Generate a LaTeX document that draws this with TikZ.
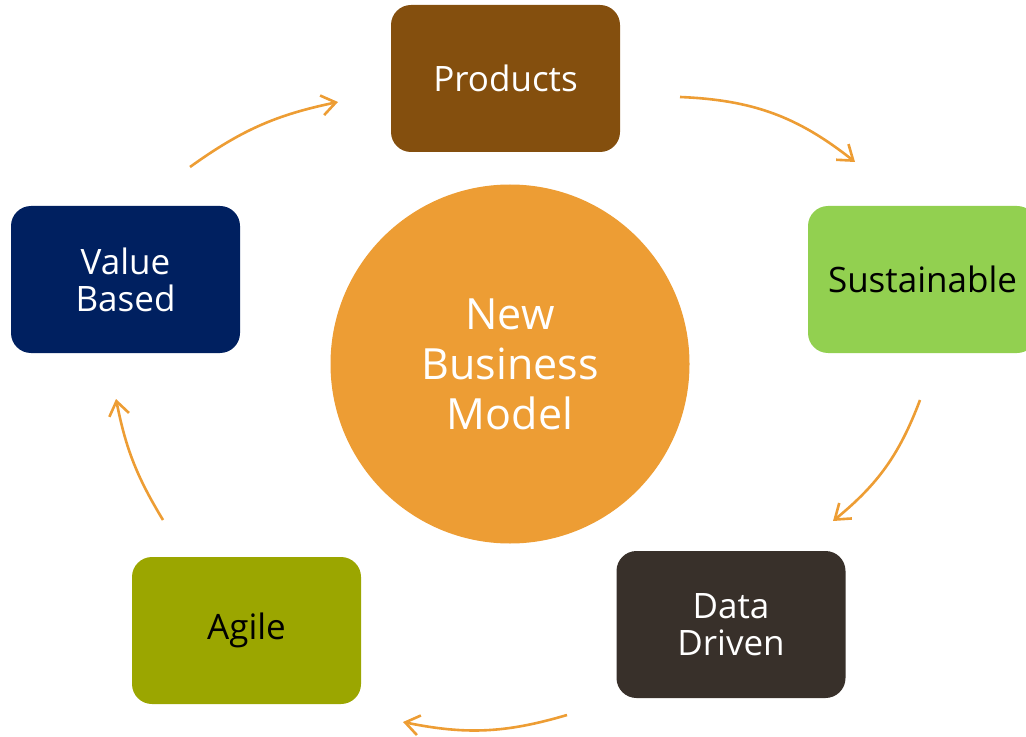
\documentclass[tikz,border=0pt]{standalone}
\usepackage{fontspec}
\setmainfont{Open Sans}
\usetikzlibrary{arrows.meta}
\definecolor{prodbrown}{RGB}{132,79,14}
\definecolor{sustgreen}{RGB}{146,208,80}
\definecolor{datadark}{RGB}{56,48,42}
\definecolor{agileolive}{RGB}{155,166,0}
\definecolor{valuenavy}{RGB}{0,32,96}
\definecolor{coreorange}{RGB}{237,157,52}

\begin{document}
\begin{tikzpicture}[x=0.5pt,y=-0.5pt,
  box/.style={rounded corners=10pt,minimum width=114.5pt,minimum height=73.5pt,
    inner sep=0pt,align=center,font=\fontsize{17.5}{18.5}\selectfont},
  flow/.style={draw=coreorange,line width=1.3pt,
    -{Straight Barb[length=7pt,width=10pt]}}]
\useasboundingbox (0,0) rectangle (1026,737);

% centre
\node[circle,fill=coreorange,text=white,minimum size=179.5pt,inner sep=0pt,
  align=center,font=\fontsize{21.5}{25}\selectfont] (core) at (510,364) {New\\Business\\Model};

% the five boxes
\node[box,fill=prodbrown,text=white] (prod) at (505.5,78.5) {Products};
\node[box,fill=sustgreen,text=black] (sust) at (922.5,279.5) {Sustainable};
\node[box,fill=datadark,text=white] (data) at (731,624.5) {Data\\Driven};
\node[box,fill=agileolive,text=black] (agile) at (246.5,630.5) {Agile};
\node[box,fill=valuenavy,text=white] (value) at (125.5,279.5) {Value\\Based};

% arrow ends
\coordinate (value-out) at (190,167);
\coordinate (prod-in) at (338,102);
\coordinate (prod-out) at (680,97);
\coordinate (sust-in) at (855,162);
\coordinate (sust-out) at (920,400);
\coordinate (data-in) at (833,521);
\coordinate (data-out) at (567,715);
\coordinate (agile-in) at (403,722);
\coordinate (agile-out) at (163,520);
\coordinate (value-in) at (116,399);

\draw[flow] (value-out) to[bend left=12] (prod-in);
\draw[flow] (prod-out) to[bend left=18] (sust-in);
\draw[flow] (sust-out) to[bend left=15] (data-in);
\draw[flow] (data-out) to[bend left=14] (agile-in);
\draw[flow] (agile-out) to[bend left=10] (value-in);
\end{tikzpicture}
\end{document}
